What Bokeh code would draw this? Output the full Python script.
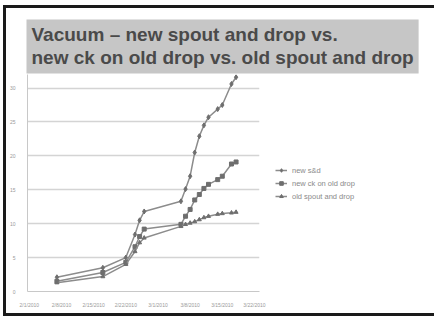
from bokeh.plotting import figure
from bokeh.models import Range1d, FixedTicker, Legend, LegendItem, Title
from bokeh.embed import file_html
from bokeh.resources import INLINE

# ---- data ----
tick_days = [0, 7, 14, 21, 28, 35, 42, 49]
tick_labels = ["2/1/2010", "2/8/2010", "2/15/2010", "2/22/2010",
               "3/1/2010", "3/8/2010", "3/15/2010", "3/22/2010"]
y_ticks = [0, 5, 10, 15, 20, 25, 30]

days = [6, 16, 21, 23, 24, 25, 33, 34, 35, 36, 37, 38, 39, 41, 42, 44, 45]
new_sd = [2.1, 3.5, 5.0, 8.4, 10.5, 11.8, 13.3, 15.1, 17.0, 20.5, 22.9, 24.5, 25.7, 26.9, 27.5, 30.6, 31.6]
new_ck = [1.5, 2.8, 4.3, 6.6, 8.1, 9.2, 9.9, 11.1, 12.1, 13.5, 14.3, 15.2, 15.8, 16.5, 17.0, 18.8, 19.1]
old_sd = [1.3, 2.2, 4.0, 5.9, 7.2, 7.9, 9.6, 9.9, 10.1, 10.3, 10.6, 10.9, 11.1, 11.4, 11.5, 11.6, 11.7]
series_names = ["new s&d", "new ck on old drop", "old spout and drop"]
title_lines = ["Vacuum \u2013 new spout and drop vs.",
               "new ck on old drop vs. old spout and drop"]

p = figure(frame_width=232, frame_height=217, output_backend="svg", toolbar_location=None,
           x_range=Range1d(-0.4, 50.1), y_range=Range1d(0, 32),
           min_border_left=20, min_border_right=167, min_border_top=66, min_border_bottom=22,
           title=None)
p.background_fill_color = "white"
p.border_fill_color = "white"
p.outline_line_color = None
p.styles = {"border": "3px solid #1a1a1a"}
p.margin = (5, 0, 0, 3)

for ax in (p.xaxis[0], p.yaxis[0]):
    ax.axis_line_color = "#c8c8c8"
    ax.major_tick_line_color = None
    ax.minor_tick_line_color = None
    ax.major_label_text_font = "Liberation Sans"
    ax.major_label_text_font_size = "5px"
    ax.major_label_text_color = "#9a9a9a"
p.xaxis.major_label_standoff = 4
p.yaxis.major_label_standoff = 6
p.xaxis.ticker = FixedTicker(ticks=tick_days)
p.xaxis.major_label_overrides = {d: l for d, l in zip(tick_days, tick_labels)}
p.yaxis.ticker = FixedTicker(ticks=y_ticks)
p.xgrid.grid_line_color = None
p.ygrid.grid_line_color = "#d4d4d4"
p.ygrid.grid_line_width = 1.5

lc = "#8c8c8c"
mc = "#6e6e6e"
r1l = p.line(days, new_sd, line_color=lc, line_width=1.5)
r1m = p.scatter(days, new_sd, marker="diamond", size=5, color=mc)
r2l = p.line(days, new_ck, line_color=lc, line_width=1.5)
r2m = p.scatter(days, new_ck, marker="square", size=4, color=mc)
r3l = p.line(days, old_sd, line_color=lc, line_width=1.5)
r3m = p.scatter(days, old_sd, marker="triangle", size=4, color=mc)

legend = Legend(items=[
    LegendItem(label=series_names[0], renderers=[r1l, r1m]),
    LegendItem(label=series_names[1], renderers=[r2l, r2m]),
    LegendItem(label=series_names[2], renderers=[r3l, r3m]),
], location="center_left")
legend.label_text_font = "Liberation Sans"
legend.label_text_font_size = "7.5px"
legend.label_text_color = "#8a8a8a"
legend.glyph_width = 12
legend.glyph_height = 9
legend.label_height = 9
legend.spacing = 4
legend.padding = 2
legend.margin = 16
legend.background_fill_alpha = 0
legend.border_line_color = None
p.add_layout(legend, "right")

t = Title(text="\n".join(title_lines), text_font="Liberation Sans", text_font_style="bold",
          text_font_size="19px", text_color="#4a4a4a", align="left",
          background_fill_color="#c6c6c6", standoff=2, offset=-1)
try:
    t.padding = 5
    t.text_line_height = 1.1
except Exception:
    pass
p.add_layout(t, "above")

open("out.html", "w").write(file_html(p, INLINE))
